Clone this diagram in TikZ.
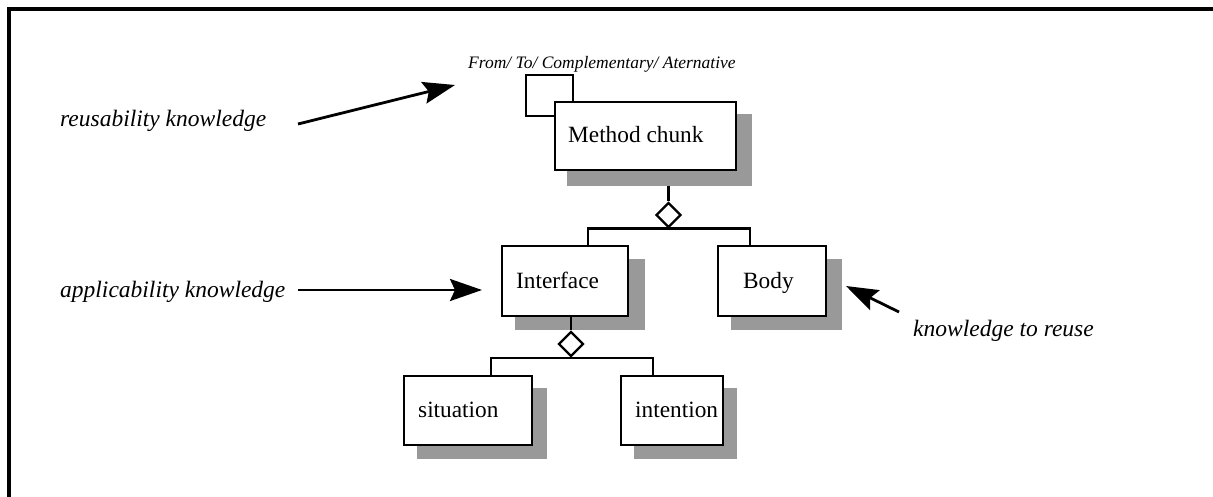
\documentclass[tikz,border=0pt]{standalone}
\usepackage{fontspec}
\setmainfont{Liberation Serif}
\usetikzlibrary{arrows.meta,shapes.geometric,calc}
\definecolor{shadowgray}{RGB}{153,153,153}
\begin{document}
\begin{tikzpicture}[x=1pt,y=-1pt,
  box/.style={draw=black,line width=2.4pt,fill=white,inner sep=0pt},
  shade/.style={fill=shadowgray,draw=none,inner sep=0pt},
  lbl/.style={anchor=base west,inner sep=0pt,font=\fontsize{23.3}{27}\selectfont},
  ilbl/.style={anchor=base west,inner sep=0pt,font=\fontsize{23.5}{27}\selectfont\itshape},
  conn/.style={line width=2.4pt},
  agg/.style={draw=black,line width=2.4pt,fill=white,diamond,inner sep=0pt,minimum width=25pt,minimum height=25pt},
  arr/.style={line width=2.8pt,-{Stealth[length=32pt,width=22pt,inset=5pt]}}]
\useasboundingbox (0,0) rectangle (1213,497);
% frame
\draw[line width=3.5pt] (9,497) -- (9,9) -- (1213,9);

% shadows
\node[shade,minimum width=185pt,minimum height=72pt] (mcs) at (659.5,150) {};
\node[shade,minimum width=130pt,minimum height=71pt] (ifcs) at (580,294.5) {};
\node[shade,minimum width=111pt,minimum height=71pt] (bodys) at (786.5,294.5) {};
\node[shade,minimum width=130pt,minimum height=71pt] (sits) at (482,423.5) {};
\node[shade,minimum width=103pt,minimum height=71pt] (ints) at (685.5,423.5) {};

% boxes
\node[box,minimum width=181pt,minimum height=68pt] (mc) at (645.5,136) {};
\node[box,minimum width=126pt,minimum height=70pt] (ifc) at (565,281) {};
\node[box,minimum width=108pt,minimum height=70pt] (body) at (772,281) {};
\node[box,minimum width=128pt,minimum height=69pt] (sit) at (468,410.5) {};
\node[box,minimum width=102pt,minimum height=69pt] (int) at (672,410.5) {};

% box texts
\node[lbl] (mct) at (568,143) {Method chunk};
\node[lbl] (ifct) at (516,288) {Interface};
\node[lbl] (bodyt) at (743,288) {Body};
\node[lbl] (sitt) at (418,417) {situation};
\node[lbl] (intt) at (635,417) {intention};

% self loop
\draw[conn] ($(mc.north west)+(0,15)$) -| (526,75) -| ($(mc.north west)+(19,0)$);
\node[anchor=base west,inner sep=0pt,font=\fontsize{17.5}{21}\selectfont\itshape] (loopt) at (468,69) {From/ To/ Complementary/ Aternative};

% aggregation 1
\node[agg] (d1) at (668.5,215) {};
\draw[conn] (mcs.south -| d1) -- (d1.north);
\draw[conn] ($(ifc.north)+(23,0)$) |- (d1.south) -| ($(body.north)+(-22,0)$);

% aggregation 2
\node[agg] (d2) at (571,344) {};
\draw[conn] (ifc.south -| d2) -- (d2.north);
\draw[conn] ($(sit.north)+(23,0)$) |- (d2.south) -| ($(int.north)+(-19,0)$);

% annotations
\node[ilbl] (reuse) at (60,127) {reusability knowledge};
\node[ilbl] (appl) at (60,298) {applicability knowledge};
\node[ilbl] (ktr) at (913,336) {knowledge to reuse};
\coordinate (a1s) at (298,124);
\coordinate (a1e) at (455,85);
\coordinate (a2s) at (298,290);
\coordinate (a2e) at (482,290);
\coordinate (a3s) at (899,312);
\coordinate (a3e) at (846,286);
\draw[arr] (a1s) -- (a1e);
\draw[arr] (a2s) -- (a2e);
\draw[arr] (a3s) -- (a3e);
\end{tikzpicture}
\end{document}
